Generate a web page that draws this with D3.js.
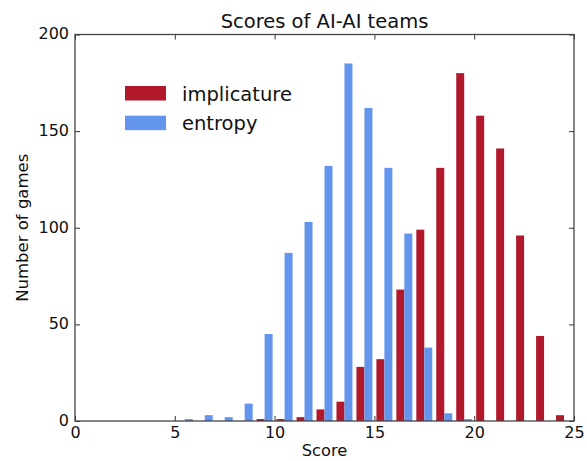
<!DOCTYPE html>
<html>
<head>
<meta charset="utf-8">
<script src="https://cdn.jsdelivr.net/npm/d3@7"></script>
<style>
  html, body { margin: 0; padding: 0; background: #fff; }
  svg { display: block; font-family: "DejaVu Sans", sans-serif; }
</style>
</head>
<body>
<svg id="chart" width="587" height="461"></svg>
<script>
// ---- data ----
const scores = [5, 6, 7, 8, 9, 10, 11, 12, 13, 14, 15, 16, 17, 18, 19, 20, 21, 22, 23, 24];
const implicature = [0, 0, 0, 0, 1, 1, 2, 6, 10, 28, 32, 68, 99, 131, 180, 158, 141, 96, 44, 3];
const entropy = [1, 3, 2, 9, 45, 87, 103, 132, 185, 162, 131, 97, 38, 4, 1, 0, 0, 0, 0, 0];
const seriesNames = ["implicature", "entropy"];
const xTicks = [0, 5, 10, 15, 20, 25];
const yTicks = [0, 50, 100, 150, 200];
const titleText = "Scores of AI-AI teams";
const xLabel = "Score";
const yLabel = "Number of games";

// ---- layout ----
const colors = { implicature: "#B2182B", entropy: "#6495ED" };
const pLeft = 75, pRight = 574, pTop = 34.5, pBottom = 421;
const svg = d3.select("#chart");

const x = d3.scaleLinear().domain([0, 25]).range([pLeft, pRight]);
const y = d3.scaleLinear().domain([0, 200]).range([pBottom, pTop]);

const series = { implicature, entropy };
const groupFrac = 0.8, binMargin = (1 - groupFrac) / 2, barFrac = groupFrac / seriesNames.length;

// bars
seriesNames.forEach((name, si) => {
  svg.append("g").selectAll("rect")
    .data(scores.map((s, i) => ({ s, v: series[name][i] })))
    .join("rect")
    .attr("x", d => x(d.s + binMargin + si * barFrac))
    .attr("width", d => x(d.s + binMargin + (si + 1) * barFrac) - x(d.s + binMargin + si * barFrac))
    .attr("y", d => y(d.v))
    .attr("height", d => y(0) - y(d.v))
    .attr("fill", colors[name]);
});

// axes
const fontSize = 16;
const gx = svg.append("g").attr("transform", `translate(0,${pBottom})`)
  .call(d3.axisBottom(x).tickValues(xTicks).tickSizeInner(-5).tickSizeOuter(0).tickPadding(6));
const gy = svg.append("g").attr("transform", `translate(${pLeft},0)`)
  .call(d3.axisLeft(y).tickValues(yTicks).tickSizeInner(-5).tickSizeOuter(0).tickPadding(6));
const gt = svg.append("g").attr("transform", `translate(0,${pTop})`)
  .call(d3.axisTop(x).tickValues(xTicks).tickSizeInner(-5).tickSizeOuter(0).tickFormat(""));
const gr = svg.append("g").attr("transform", `translate(${pRight},0)`)
  .call(d3.axisRight(y).tickValues(yTicks).tickSizeInner(-5).tickSizeOuter(0).tickFormat(""));

[gx, gy, gt, gr].forEach(g => {
  g.select(".domain").remove();
  g.selectAll("line").attr("stroke", "#333").attr("stroke-width", 1);
  g.selectAll("text").attr("font-size", fontSize).attr("fill", "#111")
    .attr("font-family", "DejaVu Sans, sans-serif");
});
gy.selectAll("text").attr("dy", "0.28em");

// frame
svg.append("rect")
  .attr("x", pLeft).attr("y", pTop)
  .attr("width", pRight - pLeft).attr("height", pBottom - pTop)
  .attr("fill", "none").attr("stroke", "#444").attr("stroke-width", 1.3);

// title & labels
svg.append("text").attr("x", (pLeft + pRight) / 2).attr("y", 28)
  .attr("text-anchor", "middle").attr("font-size", 19.5).attr("fill", "#111")
  .text(titleText);
svg.append("text").attr("x", (pLeft + pRight) / 2).attr("y", 456)
  .attr("text-anchor", "middle").attr("font-size", 16.3).attr("fill", "#111")
  .text(xLabel);
svg.append("text").attr("transform", `translate(28,${(pTop + pBottom) / 2}) rotate(-90)`)
  .attr("text-anchor", "middle").attr("font-size", 16.5).attr("fill", "#111")
  .text(yLabel);

// legend
const legend = svg.append("g");
seriesNames.forEach((name, i) => {
  const yy = 86 + i * 29.7;
  legend.append("rect").attr("x", 125).attr("y", yy).attr("width", 41).attr("height", 14.5)
    .attr("fill", colors[name]);
  legend.append("text").attr("x", 182).attr("y", yy + 14.6)
    .attr("font-size", 19.5).attr("fill", "#111").text(name);
});
</script>
</body>
</html>
